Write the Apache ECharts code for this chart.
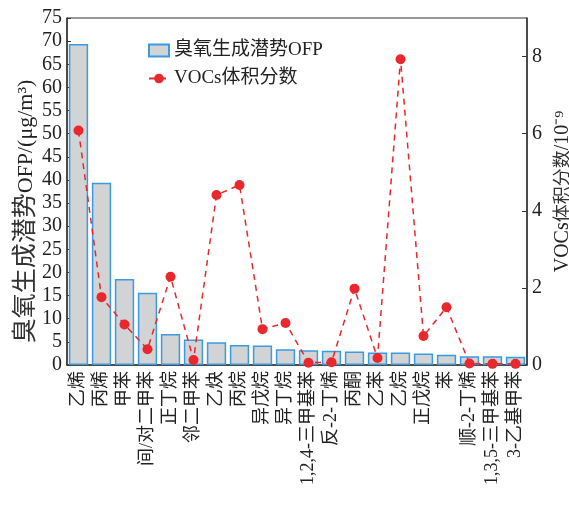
<!DOCTYPE html>
<html><head><meta charset="utf-8">
<script src="https://cdn.jsdelivr.net/npm/echarts@6/dist/echarts.min.js"></script>
<style>html,body{margin:0;padding:0;background:#fff}#c{width:569px;height:505px}</style>
</head><body><div id="c"></div>
<script>
const categories = ['乙烯','丙烯','甲苯','间/对二甲苯','正丁烷','邻二甲苯','乙炔','丙烷','异戊烷','异丁烷','1,2,4-三甲基苯','反-2-丁烯','丙酮','乙苯','乙烷','正戊烷','苯','顺-2-丁烯','1,3,5-三甲基苯','3-乙基甲苯'];
const ofpValues = [69.4, 39.4, 18.6, 15.6, 6.7, 5.5, 4.9, 4.3, 4.2, 3.4, 3.2, 3.1, 2.9, 2.7, 2.7, 2.5, 2.2, 1.9, 1.9, 1.8];
const vocValues = [6.08, 1.76, 1.05, 0.41, 2.29, 0.13, 4.41, 4.67, 0.93, 1.09, 0.06, 0.07, 1.98, 0.18, 7.93, 0.75, 1.5, 0.04, 0.03, 0.03];
const leftTicks = [0,5,10,15,20,25,30,35,40,45,50,55,60,65,70,75];
const rightTicks = [0,2,4,6,8];

const serif = '"Liberation Serif","Times New Roman","Noto Sans CJK SC",serif';
const chart = echarts.init(document.getElementById('c'));
chart.setOption({
  animation: false,
  grid: {left: 67, right: 42, top: 18, bottom: 140, outerBoundsMode: 'none', containLabel: false,
         show: true, borderColor: '#333', borderWidth: 1, backgroundColor: 'transparent'},
  legend: {
    orient: 'vertical', left: 143, top: 36, itemGap: 9, itemWidth: 20, itemHeight: 12,
    textStyle: {fontFamily: serif, fontSize: 19, color: '#222'},
    data: [
      {name: '臭氧生成潜势OFP', icon: 'rect'},
      {name: 'VOCs体积分数'}
    ]
  },
  xAxis: {
    type: 'category', data: categories,
    axisLine: {lineStyle: {color: '#333', width: 1.5}},
    axisTick: {show: false},
    axisLabel: {rotate: 90, interval: 0, fontFamily: serif, fontSize: 18, color: '#222', margin: 6}
  },
  yAxis: [
    {
      type: 'value', min: 0, max: 75, interval: 5,
      name: '{c|臭氧生成潜势}{l|OFP/(μg/m³)}', nameLocation: 'middle', nameGap: 28, nameMoveOverlap: false,
      nameTextStyle: {fontFamily: serif, fontSize: 22, color: '#222', lineHeight: 25, padding: [0, 40, 0, 0],
        rich: {c: {fontFamily: serif, fontSize: 25, color: '#333'}, l: {fontFamily: serif, fontSize: 22, color: '#222'}}},
      axisLine: {show: true, lineStyle: {color: '#333', width: 1.5}},
      axisTick: {show: true, inside: true, length: 4, lineStyle: {color: '#333'}, customValues: leftTicks},
      axisLabel: {fontFamily: serif, fontSize: 20, color: '#222', margin: 5, customValues: leftTicks},
      splitLine: {show: false}
    },
    {
      type: 'value', min: 0, max: 9,
      name: '{l|VOCs}{c|体积分数}{l|/10⁻⁹}', nameLocation: 'middle', nameGap: 26, nameRotate: 90,
      nameTextStyle: {fontFamily: serif, fontSize: 20, color: '#222', lineHeight: 20,
        rich: {c: {fontFamily: serif, fontSize: 18, color: '#333'}, l: {fontFamily: serif, fontSize: 20, color: '#222'}}},
      axisLine: {show: true, lineStyle: {color: '#333', width: 1.5}},
      axisTick: {show: true, inside: true, length: 5, lineStyle: {color: '#333'}, customValues: rightTicks},
      axisLabel: {fontFamily: serif, fontSize: 20, color: '#222', margin: 5, customValues: rightTicks},
      splitLine: {show: false}
    }
  ],
  series: [
    {
      name: '臭氧生成潜势OFP', type: 'bar', data: ofpValues, yAxisIndex: 0,
      barCategoryGap: '16%',
      itemStyle: {color: '#d2d3d5', borderColor: '#3b9ae0', borderWidth: 1.5}
    },
    {
      name: 'VOCs体积分数', type: 'line', data: vocValues, yAxisIndex: 1,
      symbol: 'circle', symbolSize: 10,
      lineStyle: {color: '#e8282c', width: 1.5, type: [6, 5]},
      itemStyle: {color: '#e8282c'}
    }
  ]
});
</script></body></html>
